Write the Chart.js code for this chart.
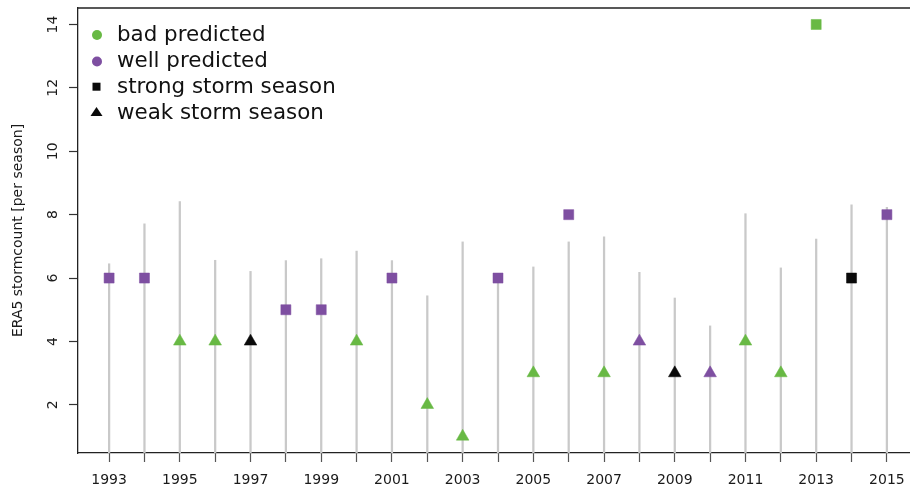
<!DOCTYPE html>
<html>
<head>
<meta charset="utf-8">
<script src="https://cdn.jsdelivr.net/npm/chart.js@4.4.1/dist/chart.umd.min.js"></script>
<style>
  html, body { margin: 0; padding: 0; background: #ffffff; overflow: hidden; }
  #wrap { position: relative; width: 930px; height: 493px; }
  #c { display: block; }
</style>
</head>
<body>
<div id="wrap"><canvas id="c" width="930" height="493"></canvas></div>
<script>
// ---- data ----
const years = [1993,1994,1995,1996,1997,1998,1999,2000,2001,2002,2003,2004,2005,2006,2007,2008,2009,2010,2011,2012,2013,2014,2015];
const stormCounts = [6,6,4,4,4,5,5,4,6,2,1,6,3,8,3,4,3,3,4,3,14,6,8];
const predictionClass = ['well','well','bad','bad','none','well','well','bad','well','bad','bad','well','bad','well','bad','well','none','well','bad','bad','bad','none','well'];
const seasonType = ['strong','strong','weak','weak','weak','strong','strong','weak','strong','weak','weak','strong','weak','strong','weak','weak','weak','weak','weak','weak','strong','strong','strong'];
const rangeUpper = [6.45,7.71,8.41,6.56,6.21,6.55,6.61,6.85,6.55,5.44,7.14,5.9,6.35,7.14,7.30,6.18,5.37,4.49,8.03,6.32,7.23,8.31,8.23];
const yTickValues = [2,4,6,8,10,12,14];
const xTickLabels = ['1993','1995','1997','1999','2001','2003','2005','2007','2009','2011','2013','2015'];
const legendLabels = ['bad predicted','well predicted','strong storm season','weak storm season'];
const yTitle = 'ERA5 stormcount [per season]';

const COLORS = { bad: '#68b944', well: '#7e4fa1', none: '#0a0a0a' };
const FONT = 'DejaVu Sans';

// build datasets
const rangeData = years.map((y, i) => ({ x: y, y: [0, rangeUpper[i]] }));
function pointsFor(cls, season) {
  const out = [];
  years.forEach((y, i) => {
    if (predictionClass[i] === cls && seasonType[i] === season) out.push({ x: y, y: stormCounts[i] });
  });
  return out;
}
const pointSets = [];
['bad','well','none'].forEach(cls => {
  ['strong','weak'].forEach(season => {
    const isSq = season === 'strong';
    pointSets.push({
      type: 'scatter',
      label: cls + '-' + season,
      data: pointsFor(cls, season),
      pointStyle: isSq ? 'rect' : 'triangle',
      pointRadius: isSq ? 7.1 : 7.3,
      pointHoverRadius: isSq ? 7.1 : 7.3,
      backgroundColor: COLORS[cls],
      borderColor: COLORS[cls],
      borderWidth: 0.5,
      order: 0
    });
  });
});

const boxPlugin = {
  id: 'boxAndLabels',
  afterDraw(chart) {
    const ctx = chart.ctx;
    const ca = chart.chartArea;
    const ys = chart.scales.y;
    ctx.save();
    // top + right frame
    ctx.strokeStyle = '#222';
    ctx.lineWidth = 1.3;
    ctx.beginPath();
    ctx.moveTo(ca.left, ca.top);
    ctx.lineTo(ca.right, ca.top);
    ctx.lineTo(ca.right, ca.bottom);
    ctx.stroke();
    // rotated y tick labels
    ctx.fillStyle = '#1a1a1a';
    ctx.font = '14px "' + FONT + '"';
    ctx.textAlign = 'center';
    ctx.textBaseline = 'alphabetic';
    yTickValues.forEach(v => {
      const py = ys.getPixelForValue(v);
      ctx.save();
      ctx.translate(57, py);
      ctx.rotate(-Math.PI / 2);
      ctx.fillText(String(v), 0, 0);
      ctx.restore();
    });
    // legend
    const lx = 97, tx = 117;
    const rows = [40.5, 66.8, 93, 119.3];
    const mk = [35, 61.5, 86.7, 112.5];
    ctx.font = '21.4px "' + FONT + '"';
    ctx.textAlign = 'left';
    ctx.fillStyle = '#111';
    legendLabels.forEach((t, i) => ctx.fillText(t, tx, rows[i]));
    // markers
    ctx.fillStyle = COLORS.bad;
    ctx.beginPath(); ctx.arc(lx, mk[0], 5, 0, Math.PI * 2); ctx.fill();
    ctx.fillStyle = COLORS.well;
    ctx.beginPath(); ctx.arc(lx, mk[1], 5, 0, Math.PI * 2); ctx.fill();
    ctx.fillStyle = '#0a0a0a';
    ctx.fillRect(lx - 4.5, mk[2] - 4, 8, 8);
    ctx.beginPath();
    ctx.moveTo(lx - 0.5, mk[3] - 5.5);
    ctx.lineTo(lx + 5.5, mk[3] + 3.5);
    ctx.lineTo(lx - 6.5, mk[3] + 3.5);
    ctx.closePath(); ctx.fill();
    ctx.restore();
  }
};

new Chart(document.getElementById('c'), {
  data: {
    datasets: [
      {
        type: 'bar',
        label: 'range',
        data: rangeData,
        backgroundColor: '#c9c9c9',
        borderWidth: 0,
        barThickness: 1.6,
        order: 5
      },
      ...pointSets
    ]
  },
  options: {
    responsive: false,
    animation: false,
    devicePixelRatio: 1,
    layout: { padding: { top: 8, right: 12, bottom: 0, left: 0 } },
    plugins: { legend: { display: false }, tooltip: { enabled: false } },
    scales: {
      x: {
        type: 'linear',
        min: 1992.12,
        max: 2015.88,
        offset: false,
        afterFit(s) { s.height = 40; },
        afterBuildTicks(s) { s.ticks = years.map(v => ({ value: v })); },
        ticks: {
          autoSkip: false,
          maxRotation: 0,
          minRotation: 0,
          padding: 10,
          color: '#1a1a1a',
          font: { family: FONT, size: 14 },
          callback(v) { const s = String(v); return xTickLabels.includes(s) ? s : ''; }
        },
        grid: { offset: false, drawOnChartArea: false, drawTicks: true, tickLength: 9, tickColor: '#555', tickWidth: 1.2 },
        border: { display: true, color: '#222', width: 1.3 }
      },
      y: {
        type: 'linear',
        min: 0.48,
        max: 14.52,
        afterFit(s) { s.width = 78; },
        afterBuildTicks(s) { s.ticks = yTickValues.map(v => ({ value: v })); },
        ticks: { display: false },
        grid: { drawOnChartArea: false, drawTicks: true, tickLength: 9, tickColor: '#333', tickWidth: 1.2 },
        border: { display: true, color: '#222', width: 1.3 },
        title: {
          display: true,
          text: yTitle,
          color: '#1a1a1a',
          font: { family: FONT, size: 14 },
          padding: { top: 10, bottom: 0 }
        }
      }
    }
  },
  plugins: [boxPlugin]
});
</script>
</body>
</html>
